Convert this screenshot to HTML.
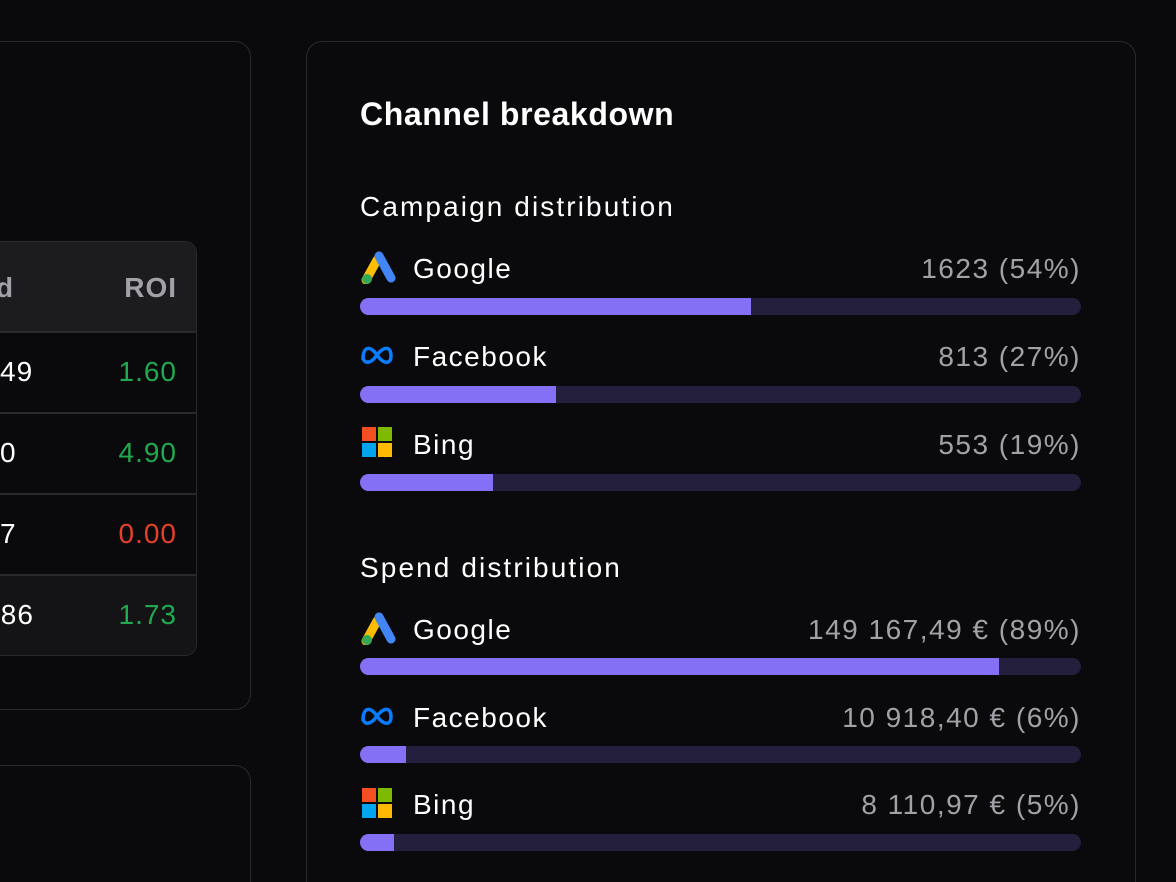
<!DOCTYPE html>
<html style="width:1176px;height:882px;overflow:hidden"><head><meta charset="utf-8"><style>
*{margin:0;padding:0;box-sizing:border-box}
body{width:1176px;height:882px;background:#0a0a0c;font-family:"Liberation Sans",sans-serif;color:#fff;position:relative;overflow:hidden}
.abs{position:absolute}
.card{position:absolute;border:1.5px solid #2a2a2e;border-radius:16px;background:#0a0a0c}
.open{border-bottom:none;border-bottom-left-radius:0;border-bottom-right-radius:0}
.num{position:absolute;font-size:28px;line-height:34px;white-space:nowrap;letter-spacing:1px}
.r{right:999px;text-align:right}
.lbl{position:absolute;left:413px;font-size:28px;line-height:34px;letter-spacing:1.5px}
.val{position:absolute;right:95px;font-size:28px;line-height:34px;color:#a1a1a8;text-align:right;white-space:nowrap;letter-spacing:1.5px}
.track{position:absolute;left:360px;width:721px;height:17px;border-radius:9px;background:#231f3d;overflow:hidden}
.fill{height:100%;background:#8470f5}
.ico{position:absolute;left:360px;width:36px;height:34px}
.h{position:absolute;left:360px;font-size:28px;line-height:34px;letter-spacing:2.1px}
</style></head><body>
<div class="card" style="left:-30px;top:41px;width:281px;height:669px"></div>
<div class="abs" style="left:-20px;top:241px;width:217px;height:415px;border:1.5px solid #2a2a2e;border-radius:12px;overflow:hidden;background:#0a0a0c">
  <div class="abs" style="left:0;top:0;width:100%;height:89px;background:#1c1c1f"></div>
  <div class="abs" style="left:0;top:332px;width:100%;height:83px;background:#141416"></div>
  <div class="abs" style="left:0;top:89px;width:100%;height:2px;background:#2a2a2e"></div>
  <div class="abs" style="left:0;top:170px;width:100%;height:2px;background:#2a2a2e"></div>
  <div class="abs" style="left:0;top:251px;width:100%;height:2px;background:#2a2a2e"></div>
  <div class="abs" style="left:0;top:332px;width:100%;height:2px;background:#2a2a2e"></div>
</div>
<div class="num" style="left:-4px;top:271px;color:#a1a1a8;font-weight:bold">d</div>
<div class="num r" style="top:271px;color:#a1a1a8;font-weight:bold">ROI</div>
<div class="num" style="left:0px;top:355px">49</div>
<div class="num r" style="top:355px;color:#22a94f">1.60</div>
<div class="num" style="left:0px;top:436px">0</div>
<div class="num r" style="top:436px;color:#22a94f">4.90</div>
<div class="num" style="left:0px;top:517px">7</div>
<div class="num r" style="top:517px;color:#e5402b">0.00</div>
<div class="num" style="left:-8px;top:598px">.86</div>
<div class="num r" style="top:598px;color:#22a94f">1.73</div>
<div class="card open" style="left:-30px;top:765px;width:281px;height:117px"></div>

<div class="card open" style="left:306px;top:41px;width:830px;height:841px"></div>
<div class="abs" style="left:360px;top:95px;font-size:32px;font-weight:bold;line-height:38px;letter-spacing:0.6px">Channel breakdown</div>
<div class="h" style="top:190px">Campaign distribution</div>
<div class="h" style="top:551px">Spend distribution</div>

<svg width="0" height="0" style="position:absolute"><defs>
<g id="g"><path d="M6 30 L17 10" stroke="#fbbc04" stroke-width="9" stroke-linecap="round"/><path d="M19 6 L31 28" stroke="#4285f4" stroke-width="9" stroke-linecap="round"/><circle cx="7" cy="29" r="5" fill="#34a853"/></g>
<g id="f"><path d="M3 22 C3 8 10 7 17 17 C24 27 31 26 31 18 C31 8 24 8 17 17 C10 27 3 26 3 18" fill="none" stroke="#0a7cff" stroke-width="3.5"/></g>
<g id="b"><rect x="2" y="2" width="14" height="14" fill="#f25022"/><rect x="18" y="2" width="14" height="14" fill="#7fba00"/><rect x="2" y="18" width="14" height="14" fill="#00a4ef"/><rect x="18" y="18" width="14" height="14" fill="#ffb900"/></g>
</defs></svg>

<svg class="ico" style="top:250px"><use href="#g"/></svg>
<div class="lbl" style="top:252px">Google</div><div class="val" style="top:252px">1623 (54%)</div>
<div class="track" style="top:298px"><div class="fill" style="width:391px"></div></div>
<svg class="ico" style="top:338px"><use href="#f"/></svg>
<div class="lbl" style="top:340px">Facebook</div><div class="val" style="top:340px">813 (27%)</div>
<div class="track" style="top:386px"><div class="fill" style="width:196px"></div></div>
<svg class="ico" style="top:425px"><use href="#b"/></svg>
<div class="lbl" style="top:428px">Bing</div><div class="val" style="top:428px">553 (19%)</div>
<div class="track" style="top:474px"><div class="fill" style="width:133px"></div></div>

<svg class="ico" style="top:611px"><use href="#g"/></svg>
<div class="lbl" style="top:613px">Google</div><div class="val" style="top:613px">149 167,49 € (89%)</div>
<div class="track" style="top:658px"><div class="fill" style="width:639px"></div></div>
<svg class="ico" style="top:699px"><use href="#f"/></svg>
<div class="lbl" style="top:701px">Facebook</div><div class="val" style="top:701px">10 918,40 € (6%)</div>
<div class="track" style="top:746px"><div class="fill" style="width:46px"></div></div>
<svg class="ico" style="top:786px"><use href="#b"/></svg>
<div class="lbl" style="top:788px">Bing</div><div class="val" style="top:788px">8 110,97 € (5%)</div>
<div class="track" style="top:834px"><div class="fill" style="width:34px"></div></div>
</body></html>
